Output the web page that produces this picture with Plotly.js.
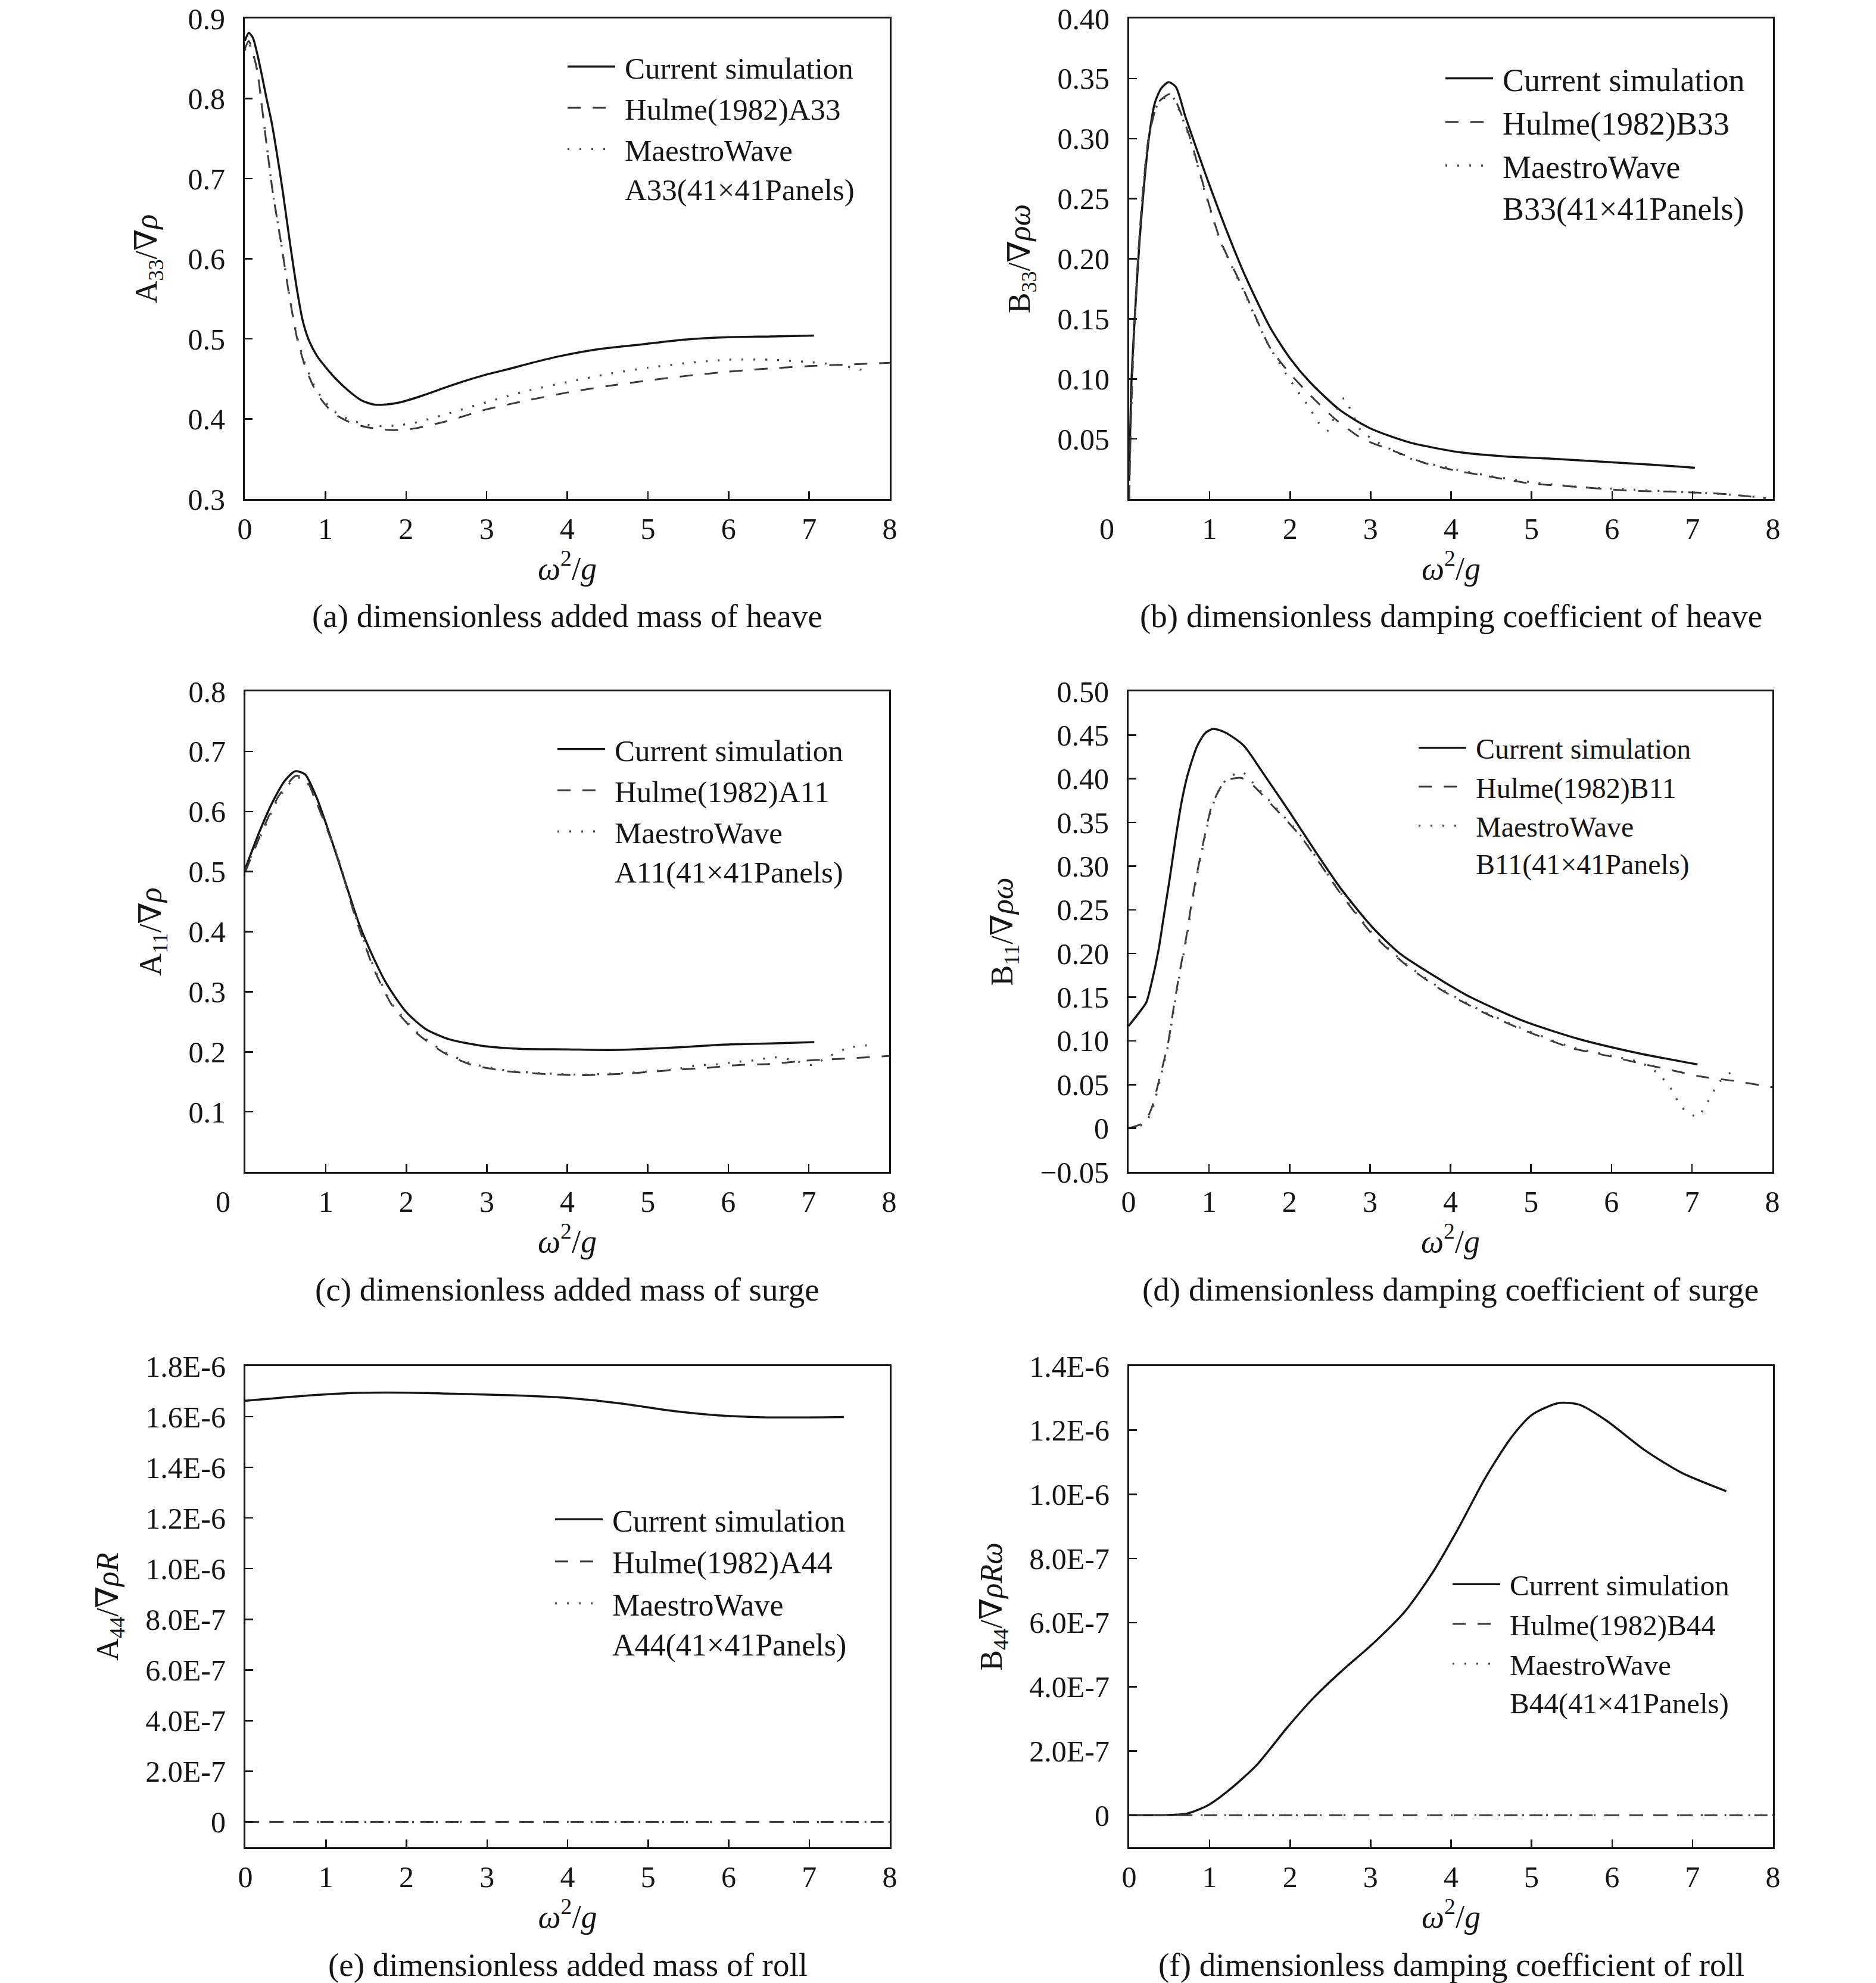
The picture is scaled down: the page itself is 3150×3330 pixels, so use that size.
<!DOCTYPE html>
<html><head><meta charset="utf-8">
<script src="https://cdn.plot.ly/plotly-3.0.1.min.js"></script>
<style>html,body{margin:0;padding:0;background:#fff}#chart{width:3150px;height:3330px}</style>
</head><body><div id="chart"></div>
<script>
// ---------------- DATA ----------------
const xTickVals = [0,1,2,3,4,5,6,7,8];
const xTickText = ['0','1','2','3','4','5','6','7','8'];
const xTickTextShift = ['0\u00a0\u00a0\u00a0\u00a0\u00a0\u00a0','1','2','3','4','5','6','7','8'];

const seriesNames = ['Current simulation', 'Hulme(1982)', 'MaestroWave<br>'];

// (a) heave added mass A33
const aCurX = [0,0.05,0.1,0.15,0.2,0.27,0.33,0.38,0.47,0.56,0.65,0.72,0.8,0.9,1.0,1.13,1.3,1.45,1.6,1.75,1.94,2.2,2.48,2.75,3.02,3.3,3.56,3.89,4.38,4.92,5.46,6.0,6.54,7.06];
const aCurY = [0.872,0.882,0.876,0.858,0.835,0.80,0.772,0.743,0.685,0.62,0.56,0.522,0.497,0.478,0.465,0.450,0.434,0.423,0.418,0.418,0.421,0.429,0.439,0.448,0.456,0.463,0.470,0.478,0.487,0.493,0.499,0.502,0.503,0.504];
const aHulX = [0,0.05,0.155,0.2,0.27,0.35,0.45,0.55,0.65,0.75,0.85,0.95,1.1,1.3,1.5,1.7,1.9,2.1,2.5,3.0,3.5,4.0,4.5,5.0,5.5,6.0,6.5,7.0,7.5,8.0];
const aHulY = [0.862,0.872,0.835,0.80,0.743,0.681,0.62,0.555,0.50,0.465,0.441,0.424,0.407,0.396,0.39,0.387,0.386,0.388,0.397,0.412,0.423,0.433,0.441,0.448,0.454,0.459,0.463,0.466,0.468,0.470];
const aMaeX = [0,0.05,0.155,0.2,0.27,0.35,0.45,0.55,0.65,0.75,0.85,0.95,1.1,1.3,1.5,1.7,1.9,2.1,2.5,3.0,3.5,4.0,4.5,5.0,5.5,6.0,6.5,7.0,7.4,7.7];
const aMaeY = [0.86,0.87,0.835,0.80,0.743,0.681,0.62,0.557,0.502,0.468,0.444,0.427,0.41,0.399,0.393,0.391,0.392,0.395,0.406,0.421,0.435,0.446,0.456,0.464,0.47,0.474,0.474,0.471,0.467,0.46];

// (b) heave damping B33
const bCurX = [0,0.03,0.08,0.128,0.19,0.25,0.32,0.4,0.49,0.58,0.7,0.94,1.19,1.44,1.75,2.0,2.25,2.62,2.99,3.49,4.1,4.67,5.28,5.9,6.51,7.03];
const bCurY = [0.015,0.10,0.163,0.214,0.265,0.303,0.330,0.342,0.347,0.343,0.318,0.272,0.227,0.186,0.143,0.117,0.097,0.074,0.059,0.047,0.039,0.0355,0.0335,0.031,0.0285,0.026];
const bHulX = [0,0.02,0.05,0.1,0.16,0.24,0.36,0.5,0.55,0.745,0.94,1.14,1.41,1.75,1.99,2.27,2.57,2.9,3.29,3.67,4.03,4.37,4.98,5.59,6.2,6.81,7.43,7.91];
const bHulY = [0.0,0.06,0.12,0.19,0.248,0.30,0.330,0.337,0.335,0.303,0.257,0.214,0.176,0.126,0.105,0.085,0.066,0.050,0.040,0.030,0.024,0.020,0.013,0.010,0.007,0.006,0.004,0.0007];
const bMaeX = [0,0.02,0.05,0.1,0.16,0.24,0.36,0.5,0.55,0.745,0.94,1.14,1.41,1.7,1.83,1.95,2.09,2.23,2.36,2.47,2.57,2.67,2.78,2.88,3.09,3.52,4.03,4.5,5.0,5.6,6.2,6.8,7.4,7.9];
const bMaeY = [0.0,0.06,0.12,0.19,0.248,0.30,0.330,0.336,0.334,0.302,0.256,0.213,0.175,0.132,0.117,0.104,0.090,0.077,0.063,0.057,0.072,0.084,0.070,0.057,0.047,0.033,0.025,0.019,0.014,0.010,0.008,0.006,0.004,0.001];

// (c) surge added mass A11
const cCurX = [0,0.18,0.35,0.5,0.62,0.74,0.88,1.06,1.24,1.41,1.59,1.76,2.0,2.24,2.53,2.94,3.41,4.0,4.47,4.82,5.46,5.94,6.53,7.07];
const cCurY = [0.505,0.568,0.619,0.653,0.667,0.662,0.625,0.557,0.483,0.414,0.357,0.312,0.266,0.238,0.221,0.210,0.205,0.204,0.203,0.204,0.208,0.212,0.214,0.216];
const cHulX = [0,0.21,0.41,0.62,0.74,0.94,1.15,1.35,1.59,1.82,2.12,2.47,2.82,3.29,3.88,4.18,4.76,5.35,5.71,6.13,6.55,6.94,7.36,7.76,8.0];
const cHulY = [0.50,0.568,0.625,0.659,0.656,0.596,0.522,0.431,0.340,0.278,0.232,0.198,0.178,0.167,0.162,0.161,0.164,0.170,0.173,0.178,0.180,0.185,0.188,0.191,0.193];
const cMaeX = [0,0.21,0.41,0.62,0.74,0.94,1.15,1.35,1.59,1.82,2.12,2.47,2.82,3.29,3.88,4.18,4.76,5.35,5.6,5.85,6.1,6.33,6.57,6.81,7.04,7.26,7.5,7.76];
const cMaeY = [0.505,0.565,0.622,0.656,0.654,0.598,0.524,0.434,0.343,0.28,0.234,0.2,0.18,0.168,0.163,0.162,0.165,0.171,0.177,0.179,0.183,0.186,0.191,0.186,0.178,0.193,0.207,0.211];

// (d) surge damping B11
const dCurX = [0,0.12,0.22,0.29,0.37,0.44,0.51,0.59,0.66,0.73,0.85,0.95,1.05,1.2,1.43,1.66,2.0,2.32,2.64,3.02,3.37,3.91,4.25,4.9,5.6,6.33,7.07];
const dCurY = [0.117,0.131,0.144,0.168,0.203,0.244,0.285,0.335,0.374,0.403,0.437,0.452,0.457,0.453,0.438,0.408,0.362,0.317,0.274,0.231,0.200,0.168,0.150,0.123,0.102,0.086,0.073];
const dHulX = [0,0.2,0.29,0.39,0.49,0.56,0.635,0.71,0.78,0.855,0.94,1.03,1.15,1.25,1.4,1.54,1.78,2.13,2.64,3.02,3.46,3.91,4.42,4.92,5.5,6.0,6.37,6.72,7.12,7.54,7.93,8.0];
const dHulY = [0.0,0.007,0.024,0.059,0.097,0.138,0.179,0.215,0.256,0.294,0.332,0.368,0.391,0.399,0.401,0.393,0.37,0.335,0.268,0.223,0.186,0.157,0.132,0.112,0.092,0.082,0.074,0.067,0.059,0.054,0.048,0.047];
const dMaeX = [0,0.2,0.29,0.39,0.49,0.56,0.635,0.71,0.78,0.855,0.94,1.03,1.15,1.25,1.41,1.54,1.78,2.13,2.64,3.02,3.46,3.91,4.42,4.92,5.5,6.0,6.37,6.59,6.75,6.87,7.07,7.21,7.33,7.54];
const dMaeY = [0.0,0.005,0.02,0.055,0.095,0.135,0.176,0.212,0.253,0.292,0.33,0.366,0.392,0.402,0.408,0.396,0.372,0.336,0.269,0.224,0.187,0.158,0.133,0.113,0.093,0.083,0.075,0.062,0.044,0.024,0.013,0.032,0.052,0.068];

// (e) roll added mass A44
const eCurX = [0,0.71,1.37,2.03,2.69,3.35,4.0,4.67,5.33,5.99,6.65,7.43];
const eCurY = [1.663e-6,1.682e-6,1.694e-6,1.695e-6,1.690e-6,1.684e-6,1.674e-6,1.652e-6,1.622e-6,1.603e-6,1.597e-6,1.599e-6];
const eHulX = [0,1,2,3,4,5,6,7,8];
const eHulY = [0,0,0,0,0,0,0,0,0];
const eMaeX = [0,1,2,3,4,5,6,7,8];
const eMaeY = [0,0,0,0,0,0,0,0,0];

// (f) roll damping B44
const fCurX = [0,0.45,0.72,0.98,1.25,1.58,1.97,2.30,2.63,3.03,3.43,3.76,4.09,4.42,4.75,5.01,5.34,5.60,5.93,6.40,6.86,7.42];
const fCurY = [0,0,5e-9,3.1e-8,8.0e-8,1.55e-7,2.75e-7,3.68e-7,4.47e-7,5.35e-7,6.36e-7,7.52e-7,8.94e-7,1.049e-6,1.178e-6,1.249e-6,1.285e-6,1.279e-6,1.230e-6,1.139e-6,1.068e-6,1.010e-6];
const fHulX = [0,1,2,3,4,5,6,7,8];
const fHulY = [0,0,0,0,0,0,0,0,0];
const fMaeX = [0,1,2,3,4,5,6,7,8];
const fMaeY = [0,0,0,0,0,0,0,0,0];

// tick labels
const aYVals = [0.3,0.4,0.5,0.6,0.7,0.8,0.9];
const aYText = ['0.3','0.4','0.5','0.6','0.7','0.8','0.9'];
const bYVals = [0.05,0.10,0.15,0.20,0.25,0.30,0.35,0.40];
const bYText = ['0.05','0.10','0.15','0.20','0.25','0.30','0.35','0.40'];
const cYVals = [0.1,0.2,0.3,0.4,0.5,0.6,0.7,0.8];
const cYText = ['0.1','0.2','0.3','0.4','0.5','0.6','0.7','0.8'];
const dYVals = [-0.05,0,0.05,0.10,0.15,0.20,0.25,0.30,0.35,0.40,0.45,0.50];
const dYText = ['\u22120.05','0','0.05','0.10','0.15','0.20','0.25','0.30','0.35','0.40','0.45','0.50'];
const eYVals = [0,2e-7,4e-7,6e-7,8e-7,1e-6,1.2e-6,1.4e-6,1.6e-6,1.8e-6];
const eYText = ['0','2.0E-7','4.0E-7','6.0E-7','8.0E-7','1.0E-6','1.2E-6','1.4E-6','1.6E-6','1.8E-6'];
const fYVals = [0,2e-7,4e-7,6e-7,8e-7,1e-6,1.2e-6,1.4e-6];
const fYText = ['0','2.0E-7','4.0E-7','6.0E-7','8.0E-7','1.0E-6','1.2E-6','1.4E-6'];

const codes = ['A33','B33','A11','B11','A44','B44'];
const yTitles = ['A<sub>33</sub>/\u2207<i>\u03c1</i>','B<sub>33</sub>/\u2207<i>\u03c1\u03c9</i>','A<sub>11</sub>/\u2207<i>\u03c1</i>','B<sub>11</sub>/\u2207<i>\u03c1\u03c9</i>','A<sub>44</sub>/\u2207<i>\u03c1R</i>','B<sub>44</sub>/\u2207<i>\u03c1R\u03c9</i>'];
const xTitle = '<i>\u03c9</i><sup>2</sup>/<i>g</i>';
const captions = ['(a) dimensionless added mass of heave','(b) dimensionless damping coefficient of heave','(c) dimensionless added mass of surge','(d) dimensionless damping coefficient of surge','(e) dimensionless added mass of roll','(f) dimensionless damping coefficient of roll'];

// ---------------- LAYOUT ----------------
const W = 3150, H = 3330;
const FONT = '"Liberation Serif", "Times New Roman", "DejaVu Serif", serif';
const INK = '#151515';
const SYM_W = 90;

const data = [
  [aCurX,aCurY,aHulX,aHulY,aMaeX,aMaeY],
  [bCurX,bCurY,bHulX,bHulY,bMaeX,bMaeY],
  [cCurX,cCurY,cHulX,cHulY,cMaeX,cMaeY],
  [dCurX,dCurY,dHulX,dHulY,dMaeX,dMaeY],
  [eCurX,eCurY,eHulX,eHulY,eMaeX,eMaeY],
  [fCurX,fCurY,fHulX,fHulY,fMaeX,fMaeY]
];
const yTicks = [[aYVals,aYText],[bYVals,bYText],[cYVals,cYText],[dYVals,dYText],[eYVals,eYText],[fYVals,fYText]];
const panels = [
  {l:411,r:1494,t:31,b:838,yr:[0.3,0.9],xt:xTickText,legX:1049,legY:110,legF:51},
  {l:1896,r:2977,t:31,b:838,yr:[0,0.40],xt:xTickTextShift,legX:2523,legY:128,legF:54},
  {l:412,r:1493,t:1161,b:1968,yr:[0,0.8],xt:xTickTextShift,legX:1032,legY:1256,legF:51},
  {l:1895,r:2976,t:1161,b:1968,yr:[-0.05,0.50],xt:xTickText,legX:2478,legY:1256,legF:48},
  {l:412,r:1494,t:2294,b:3102,yr:[-1e-7,1.8e-6],xt:xTickText,legX:1028,legY:2549,legF:52},
  {l:1896,r:2977,t:2294,b:3102,yr:[-1e-7,1.4e-6],xt:xTickText,legX:2535,legY:2660,legF:49}
];

const styles = [
  {color:INK, width:3.5, dash:'solid', shape:'spline', smoothing:0.7},
  {color:'#3a3a3a', width:3, dash:'22px,20px', shape:'spline', smoothing:0.6},
  {color:'#4a4a4a', width:3.5, dash:'3px,17px', shape:'spline', smoothing:0.5}
];

const traces = [];
const layout = {
  width: W, height: H,
  margin: {l:0,r:0,t:0,b:0,pad:0},
  paper_bgcolor: '#ffffff', plot_bgcolor: '#ffffff',
  font: {family: FONT, color: INK, size: 50},
  showlegend: true,
  annotations: []
};

panels.forEach((p, i) => {
  const n = i + 1;
  const xn = n === 1 ? 'x' : 'x' + n;
  const yn = n === 1 ? 'y' : 'y' + n;
  const legId = n === 1 ? 'legend' : 'legend' + n;
  const d = data[i];
  const names = [seriesNames[0], seriesNames[1] + codes[i], seriesNames[2] + codes[i] + '(41\u00d741Panels)'];
  for (let k = 0; k < 3; k++) {
    const s = styles[k];
    traces.push({
      type: 'scatter', mode: 'lines',
      x: d[2*k], y: d[2*k+1], name: names[k],
      xaxis: xn, yaxis: yn, legend: legId,
      line: {color: s.color, width: s.width, dash: s.dash, shape: s.shape, smoothing: s.smoothing},
      hoverinfo: 'skip'
    });
  }
  const axBase = {
    showgrid: false, zeroline: false, showline: true, mirror: true,
    linecolor: INK, linewidth: 3, ticks: 'inside', ticklen: 13, tickwidth: 2.5, tickcolor: INK,
    tickfont: {family: FONT, size: 50, color: INK}, tickmode: 'array'
  };
  layout[n === 1 ? 'xaxis' : 'xaxis' + n] = Object.assign({}, axBase, {
    domain: [p.l / W, p.r / W], anchor: yn, range: [0, 8],
    tickvals: xTickVals, ticktext: p.xt, ticklabelstandoff: 4,
    title: {text: xTitle, font: {family: FONT, size: 54, color: INK}, standoff: 14}
  });
  layout[n === 1 ? 'yaxis' : 'yaxis' + n] = Object.assign({}, axBase, {
    domain: [(H - p.b) / H, (H - p.t) / H], anchor: xn, range: p.yr,
    tickvals: yTicks[i][0], ticktext: yTicks[i][1], ticklabelstandoff: 20,
    title: {text: yTitles[i], font: {family: FONT, size: 52, color: INK}, standoff: i === 0 ? 36 : 30}
  });
  layout[legId] = {
    x: (p.legX - SYM_W - 10) / W, y: 1 - (p.legY - 38) / H, xanchor: 'left', yanchor: 'top',
    xref: 'paper', yref: 'paper', itemwidth: SYM_W,
    bgcolor: 'rgba(0,0,0,0)', borderwidth: 0,
    font: {family: FONT, size: p.legF, color: INK}, valign: 'top', tracegroupgap: 0
  };
  layout.annotations.push({
    text: captions[i], showarrow: false,
    xref: xn + ' domain', yref: yn + ' domain', x: 0.5, y: 0,
    xanchor: 'center', yanchor: 'middle', yshift: -197,
    font: {family: FONT, size: 55, color: INK}
  });
});

Plotly.newPlot('chart', traces, layout, {displayModeBar: false, staticPlot: true}).then(gd => {
  // lengthen the legend line samples to match the wide samples of the original figure
  gd.querySelectorAll('.legendlines path').forEach(pth => {
    pth.setAttribute('d', 'M4,0h' + (SYM_W - 10));
  });
});
</script>
</body></html>
